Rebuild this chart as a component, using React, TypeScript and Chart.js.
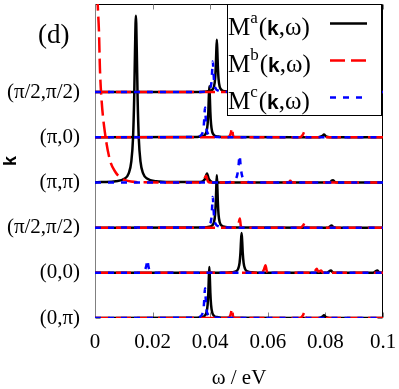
import React, { useEffect, useRef } from "react";
import { Chart, registerables } from "chart.js";

Chart.register(...registerables);

type P = [number, number];

// k-point labels, bottom row to top row
const kLabels = ["(0,π)", "(0,0)", "(π/2,π/2)", "(π,π)", "(π,0)", "(π/2,π/2)"];
const xTickValues = [0, 0.02, 0.04, 0.06, 0.08, 0.1];
const xTickLabels = ["0", "0.02", "0.04", "0.06", "0.08", "0.1"];

// ---- (0,π) and (π,0) ----
const zeroPiA: P[] = [
  [0, 0], [0.0337, 0.004], [0.0367, 0.017], [0.0381, 0.05], [0.0387, 0.12], [0.0391, 0.29],
  [0.03935, 0.56], [0.0395, 0.85], [0.0397, 1.13], [0.0399, 0.85], [0.04005, 0.56],
  [0.0403, 0.29], [0.0407, 0.12], [0.0413, 0.05], [0.0427, 0.017], [0.0457, 0.004],
  [0.0775, 0], [0.079, 0.03], [0.0795, 0.06], [0.0802, 0.02], [0.0815, 0], [0.1, 0],
];
const zeroPiB: P[] = [
  [0, 0], [0.0462, 0], [0.0471, 0.08], [0.0476, 0.2], [0.0479, 0.05], [0.0484, 0],
  [0.0712, 0], [0.0722, 0.06], [0.0728, 0.13], [0.0731, 0.03], [0.0736, 0], [0.1, 0],
];
const zeroPiC: P[] = [
  [0, 0], [0.0335, 0.004], [0.0362, 0.02], [0.0372, 0.08], [0.0377, 0.2], [0.03795, 0.42],
  [0.0382, 0.66], [0.03845, 0.42], [0.0387, 0.2], [0.0392, 0.08], [0.0402, 0.03],
  [0.0425, 0.006], [0.047, 0], [0.1, 0],
];

// ---- (0,0) ----
const zeroZeroA: P[] = [
  [0, 0], [0.0449, 0.004], [0.0474, 0.011], [0.0489, 0.034], [0.0497, 0.088], [0.0502, 0.22],
  [0.0505, 0.44], [0.0507, 0.7], [0.0509, 0.88], [0.0511, 0.7], [0.0513, 0.44],
  [0.0516, 0.22], [0.0521, 0.088], [0.0529, 0.034], [0.0544, 0.011], [0.0569, 0.004],
  [0.0805, 0], [0.0814, 0.04], [0.0819, 0.05], [0.0826, 0.01], [0.0835, 0],
  [0.0965, 0], [0.0975, 0.04], [0.098, 0.05], [0.0987, 0.01], [0.0995, 0], [0.1, 0],
];
const zeroZeroB: P[] = [
  [0, 0], [0.0578, 0], [0.0587, 0.08], [0.0592, 0.17], [0.0596, 0.05], [0.0602, 0],
  [0.0755, 0], [0.0765, 0.05], [0.077, 0.09], [0.0775, 0.03], [0.0785, 0.05], [0.0792, 0], [0.1, 0],
];
const zeroZeroC: P[] = [
  [0, 0], [0.0155, 0], [0.0172, 0.05], [0.0178, 0.15], [0.0182, 0.29], [0.0185, 0.16],
  [0.0189, 0.06], [0.0198, 0.02], [0.0215, 0], [0.1, 0],
];

// ---- (π/2,π/2) ----
const piHalfA: P[] = [
  [0, 0], [0.0363, 0.004], [0.0393, 0.017], [0.0407, 0.05], [0.0413, 0.12], [0.0417, 0.29],
  [0.04195, 0.58], [0.0421, 0.87], [0.0423, 1.16], [0.0425, 0.87], [0.04265, 0.58],
  [0.0429, 0.29], [0.0433, 0.12], [0.0439, 0.05], [0.0453, 0.017], [0.0483, 0.004],
  [0.081, 0], [0.0817, 0.03], [0.0821, 0.05], [0.0828, 0.01], [0.0838, 0], [0.1, 0],
];
const piHalfB: P[] = [
  [0, 0], [0.049, 0], [0.0498, 0.08], [0.0503, 0.2], [0.0506, 0.05], [0.0511, 0],
  [0.0714, 0], [0.0724, 0.06], [0.073, 0.13], [0.0733, 0.03], [0.0738, 0], [0.1, 0],
];
const piHalfC: P[] = [
  [0, 0], [0.0362, 0.004], [0.0389, 0.02], [0.0399, 0.08], [0.0404, 0.2], [0.04065, 0.43],
  [0.0409, 0.68], [0.04115, 0.43], [0.0414, 0.2], [0.0419, 0.08], [0.0429, 0.03],
  [0.0452, 0.006], [0.049, 0], [0.1, 0],
];

// ---- (π,π) ----
const piPiA: P[] = [
  [0, 0], [0.0022, 0.009], [0.0072, 0.027], [0.0102, 0.08], [0.0117, 0.2], [0.0126, 0.46],
  [0.0132, 0.98], [0.0136, 1.85], [0.0139, 2.95], [0.0142, 3.69], [0.0145, 2.95],
  [0.0148, 1.85], [0.0152, 0.98], [0.0158, 0.46], [0.0167, 0.2], [0.0182, 0.08],
  [0.0212, 0.027], [0.0262, 0.009], [0.0365, 0.01], [0.0382, 0.08], [0.0389, 0.2],
  [0.0395, 0.08], [0.041, 0], [0.0815, 0], [0.0822, 0.04], [0.0826, 0.05], [0.0833, 0.01],
  [0.0842, 0], [0.1, 0],
];
const piPiB: P[] = [
  [0.0006, 4.6], [0.0009, 4.0], [0.0014, 3.3], [0.0017, 2.54], [0.0023, 1.81], [0.0035, 1.08],
  [0.0052, 0.49], [0.0072, 0.22], [0.0087, 0.11], [0.0105, 0.05], [0.0125, 0.02],
  [0.016, 0.005], [0.0365, 0], [0.0378, 0.06], [0.0386, 0.15], [0.0391, 0.04], [0.0398, 0],
  [0.0672, 0], [0.0678, 0.04], [0.0684, 0], [0.1, 0],
];
const piPiC: P[] = [
  [0, 0], [0.0455, 0], [0.0478, 0.02], [0.0489, 0.08], [0.0495, 0.2], [0.04985, 0.38],
  [0.0502, 0.6], [0.05055, 0.38], [0.0509, 0.2], [0.0515, 0.08], [0.0526, 0.02],
  [0.0545, 0], [0.1, 0],
];

// rows bottom to top
const rowA = [zeroPiA, zeroZeroA, piHalfA, piPiA, zeroPiA, piHalfA];
const rowB = [zeroPiB, zeroZeroB, piHalfB, piPiB, zeroPiB, piHalfB];
const rowC = [zeroPiC, zeroZeroC, piHalfC, piPiC, zeroPiC, piHalfC];

const seriesNames = ["a", "b", "c"];
const seriesColors = ["#000000", "#ff0000", "#0000ff"];
const seriesDash = [[], [15, 6], [6, 7]];

const SERIF = "'Liberation Serif', 'Times New Roman', serif";
const SANS = "'Liberation Sans', Arial, sans-serif";

const framePlugin = {
  id: "frame",
  beforeDatasetsDraw(chart: any) {
    const { ctx, chartArea } = chart;
    const { left, right, top, bottom } = chartArea;
    const xs = chart.scales.x;
    const ys = chart.scales.y;
    ctx.save();
    ctx.lineWidth = 1;
    ctx.strokeStyle = "#000";
    const L = Math.round(left) + 0.5;
    const R = Math.round(right) - 0.5;
    const T = Math.round(top) + 0.5;
    const B = Math.round(bottom) - 0.5;
    ctx.beginPath();
    ctx.moveTo(L, B);
    ctx.lineTo(R, B);
    ctx.lineTo(R, T);
    ctx.lineTo(L, T);
    ctx.stroke();
    ctx.strokeStyle = "#808080";
    ctx.beginPath();
    ctx.moveTo(L, T);
    ctx.lineTo(L, B);
    ctx.stroke();
    ctx.strokeStyle = "#808080";
    ctx.beginPath();
    xTickValues.forEach((v) => {
      const px = Math.round(xs.getPixelForValue(v)) + 0.5;
      ctx.moveTo(px, T);
      ctx.lineTo(px, T + 5);
      ctx.moveTo(px, B);
      ctx.lineTo(px, B - 5);
    });
    kLabels.forEach((_, i) => {
      const py = Math.round(ys.getPixelForValue(i)) + 0.5;
      ctx.moveTo(L, py);
      ctx.lineTo(L + 5, py);
      ctx.moveTo(R, py);
      ctx.lineTo(R - 5, py);
    });
    ctx.stroke();
    ctx.restore();
  },
};

const legendPlugin = {
  id: "customLegend",
  afterDraw(chart: any) {
    const { ctx } = chart;
    ctx.save();
    // panel label
    ctx.fillStyle = "#000";
    ctx.font = `27px ${SERIF}`;
    ctx.textBaseline = "alphabetic";
    ctx.textAlign = "left";
    ctx.fillText("(d)", 38, 43);

    // legend box
    const bx = 227, by = 4, bw = 154, bh = 111;
    ctx.fillStyle = "#fff";
    ctx.fillRect(bx, by, bw, bh);
    ctx.strokeStyle = "#000";
    ctx.lineWidth = 1;
    ctx.strokeRect(bx + 0.5, by + 0.5, bw, bh);

    const baselines = [35, 72, 109];
    const lineYs = [23.5, 60.5, 97.5];
    seriesNames.forEach((s, i) => {
      let x = 228;
      const y = baselines[i];
      ctx.fillStyle = "#000";
      ctx.font = `25px ${SERIF}`;
      ctx.fillText("M", x, y);
      x += ctx.measureText("M").width;
      ctx.font = `17px ${SERIF}`;
      ctx.fillText(s, x, y - 12);
      x += ctx.measureText(s).width + 1;
      ctx.font = `25px ${SERIF}`;
      ctx.fillText("(", x, y);
      x += ctx.measureText("(").width;
      ctx.font = `bold 21px ${SANS}`;
      ctx.fillText("k", x, y);
      x += ctx.measureText("k").width;
      ctx.font = `25px ${SERIF}`;
      ctx.fillText(",ω)", x, y);

      ctx.strokeStyle = seriesColors[i];
      ctx.lineWidth = 2.5;
      ctx.setLineDash(seriesDash[i]);
      ctx.beginPath();
      ctx.moveTo(330, lineYs[i]);
      ctx.lineTo(367, lineYs[i]);
      ctx.stroke();
      ctx.setLineDash([]);
    });
    ctx.restore();
  },
};

const zeroPad = (s: any) => {
  s.paddingTop = 0;
  s.paddingBottom = 0;
  s.paddingLeft = 0;
  s.paddingRight = 0;
};

export default function App() {
  const canvasRef = useRef<HTMLCanvasElement | null>(null);

  useEffect(() => {
    document.body.style.margin = "0";
    const canvas = canvasRef.current;
    if (!canvas) return;

    const groups = [rowA, rowB, rowC];
    const datasets: any[] = [];
    groups.forEach((rows, si) => {
      rows.forEach((pts, ri) => {
        datasets.push({
          label: `M${seriesNames[si]} ${kLabels[ri]}`,
          data: pts.map(([x, v]) => ({ x, y: ri + v })),
          borderColor: seriesColors[si],
          borderWidth: 2.5,
          borderDash: seriesDash[si],
          pointRadius: 0,
          showLine: true,
          fill: false,
          cubicInterpolationMode: "monotone",
          order: 2 - si,
        });
      });
    });

    const chart = new Chart(canvas, {
      type: "scatter",
      data: { datasets },
      options: {
        animation: false,
        responsive: false,
        maintainAspectRatio: false,
        layout: { padding: { top: 4, right: 16, left: 0, bottom: 0 } },
        plugins: {
          legend: { display: false },
          tooltip: { enabled: false },
        },
        scales: {
          x: {
            type: "linear",
            min: 0,
            max: 0.1,
            afterBuildTicks: (s: any) => {
              s.ticks = xTickValues.map((v) => ({ value: v }));
            },
            afterFit: (s: any) => {
              s.height = 71;
              zeroPad(s);
            },
            ticks: {
              autoSkip: false,
              maxRotation: 0,
              padding: 12,
              color: "#000",
              font: { family: SERIF, size: 21 },
              callback: (v: any) => {
                const i = xTickValues.findIndex((t) => Math.abs(t - v) < 1e-9);
                return i >= 0 ? xTickLabels[i] : "";
              },
            },
            grid: { display: false, drawTicks: false },
            border: { display: false },
            title: {
              display: true,
              text: "ω / eV",
              color: "#000",
              font: { family: SERIF, size: 21 },
              padding: { top: 0, bottom: -2 },
            },
          },
          y: {
            type: "linear",
            min: 0,
            max: 6.95,
            afterBuildTicks: (s: any) => {
              s.ticks = kLabels.map((_, i) => ({ value: i }));
            },
            afterFit: (s: any) => {
              s.width = 95;
              zeroPad(s);
            },
            ticks: {
              autoSkip: false,
              padding: 15,
              color: "#000",
              font: { family: SERIF, size: 21 },
              callback: (v: any) => kLabels[Math.round(v)] ?? "",
            },
            grid: { display: false, drawTicks: false },
            border: { display: false },
            title: {
              display: true,
              text: "k",
              color: "#000",
              font: { family: SANS, size: 18, weight: "bold" },
              padding: { top: 0, bottom: 0 },
            },
          },
        },
      },
      plugins: [framePlugin, legendPlugin],
    });

    return () => {
      chart.destroy();
    };
  }, []);

  return (
    <div style={{ position: "absolute", left: 0, top: 0, width: 399, height: 389 }}>
      <canvas ref={canvasRef} width={399} height={389} style={{ width: 399, height: 389 }} />
    </div>
  );
}
